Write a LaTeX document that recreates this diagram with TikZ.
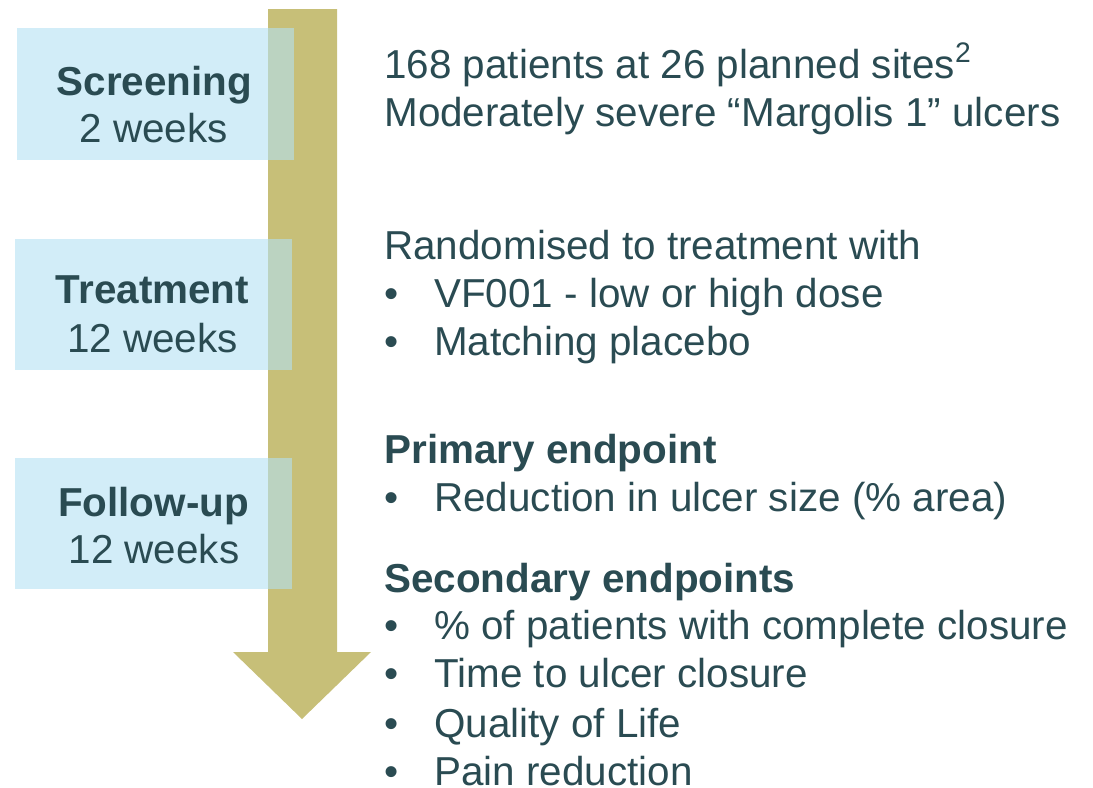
\documentclass[tikz,border=0pt]{standalone}
\usepackage{fontspec}
\setmainfont{Liberation Sans}
\usepackage{tikz}

\definecolor{arrowolive}{RGB}{199,191,120}
\definecolor{phaseblue}{RGB}{180,225,243}
\definecolor{darkteal}{RGB}{42,75,82}
\newcommand{\blt}{\makebox[1cm][l]{•}}

\begin{document}
\begin{tikzpicture}[x=0.02cm, y=-0.02cm,
		font=\fontsize{23}{27}\selectfont,
		phase/.style={fill=phaseblue, fill opacity=0.6, minimum width=5.54cm, minimum height=2.63cm, inner sep=0},
		lbl/.style={text=darkteal, inner sep=0, anchor=base},
		txt/.style={text=darkteal, inner sep=0, anchor=base west}]
			\useasboundingbox (0, 0) rectangle (1093, 788);

			% time line arrow
			\fill[arrowolive] (268, 9) -- (337, 9) -- (337, 652) -- (371, 652) -- (302, 719) -- (233, 652) -- (268, 652) -- cycle;

			% phases
			\node[phase] (screen) at (155.5, 94) {};
			\node[phase] (treat) at (153.5, 304.5) {};
			\node[phase] (follow) at (153.5, 523.5) {};

			\node[lbl] (screenA) at (154.5, 95) {\textbf{Screening}};
			\node[lbl] (screenB) at (153.5, 142) {2 weeks};
			\node[lbl] (treatA) at (152.5, 303) {\textbf{Treatment}};
			\node[lbl] (treatB) at (152.5, 352) {12 weeks};
			\node[lbl] (followA) at (153.5, 516) {\textbf{Follow-up}};
			\node[lbl] (followB) at (154, 563) {12 weeks};

			% right hand text
			\node[txt] (pat) at (384, 78) {168 patients at 26 planned sites\textsuperscript{2}};
			\node[txt] (ulc) at (384, 126) {Moderately severe “Margolis 1” ulcers};

			\node[txt] (rand) at (384, 259) {Randomised to treatment with};
			\node[txt] (dose) at (384, 307) {\blt VF001 - low or high dose};
			\node[txt] (plac) at (384, 355) {\blt Matching placebo};

			\node[txt] (prim) at (384, 463) {\textbf{Primary endpoint}};
			\node[txt] (red) at (384, 511) {\blt Reduction in ulcer size (\% area)};

			\node[txt] (sec) at (384, 592) {\textbf{Secondary endpoints}};
			\node[txt] (clos) at (384, 639) {\blt \% of patients with complete closure};
			\node[txt] (time) at (384, 687) {\blt Time to ulcer closure};
			\node[txt] (qol) at (384, 737) {\blt Quality of Life};
			\node[txt] (pain) at (384, 785) {\blt Pain reduction};
		\end{tikzpicture}
\end{document}
